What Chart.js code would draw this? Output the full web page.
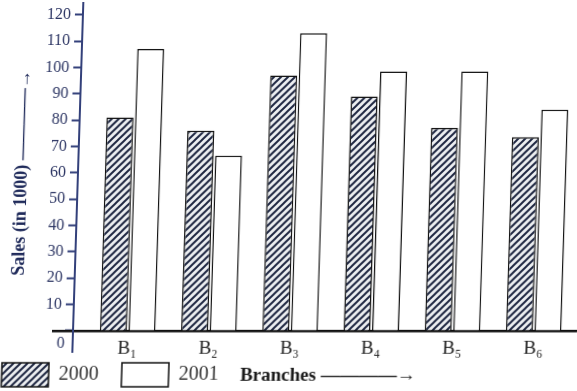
<!DOCTYPE html>
<html>
<head>
<meta charset="utf-8">
<script src="https://cdn.jsdelivr.net/npm/chart.js@4.4.1/dist/chart.umd.min.js"></script>
<style>
  html, body { margin: 0; padding: 0; background: #fff; overflow: hidden; }
  /* the scanned page leans a little: verticals drift right towards the top */
  #chart { display: block; transform: skewX(-1.8deg); transform-origin: 0 331px; }
</style>
</head>
<body>
<canvas id="chart" width="577" height="391"></canvas>
<script>
// sales (in thousands) of the six branches
const branches = ["B₁", "B₂", "B₃", "B₄", "B₅", "B₆"];
const years = ["2000", "2001"];
const sales2000 = [81, 76, 97, 89, 77, 73.5];
const sales2001 = [107, 66.5, 113, 98.5, 98.5, 84];
const yTicks = [0, 10, 20, 30, 40, 50, 60, 70, 80, 90, 100, 110, 120];

// the "0" of the y axis sits a little under the x axis in the book
const zeroLabelAt = -4.8;

const serif = "'Liberation Serif', 'Times New Roman', serif";
const axisBlue = "#33407a";
const labelBlue = "#2c3563";

// diagonal hatch for the 2000 bars
function hatch() {
  const c = document.createElement("canvas");
  c.width = 7;
  c.height = 7;
  const g = c.getContext("2d");
  g.fillStyle = "#eef0f2";
  g.fillRect(0, 0, 7, 7);
  g.strokeStyle = "#1d2540";
  g.lineWidth = 2;
  g.beginPath();
  g.moveTo(-1, 8); g.lineTo(8, -1);
  g.moveTo(-1, 1); g.lineTo(1, -1);
  g.moveTo(6, 8); g.lineTo(8, 6);
  g.stroke();
  return g.createPattern(c, "repeat");
}

function points(arr) {
  return arr.map((v, i) => ({ x: i + 1, y: v }));
}

new Chart(document.getElementById("chart"), {
  type: "bar",
  data: {
    datasets: [
      {
        label: years[0],
        data: points(sales2000),
        backgroundColor: hatch(),
        borderColor: "#111",
        borderWidth: 1.5,
        categoryPercentage: 0.703,
        barPercentage: 0.947,
      },
      {
        label: years[1],
        data: points(sales2001),
        backgroundColor: "#fff",
        borderColor: "#111",
        borderWidth: 1.5,
        categoryPercentage: 0.703,
        barPercentage: 0.947,
      },
    ],
  },
  options: {
    responsive: false,
    animation: false,
    devicePixelRatio: 1,
    layout: { padding: { left: 0, right: 0, top: 3, bottom: -6 } },
    plugins: {
      tooltip: { enabled: false },
      legend: {
        position: "bottom",
        align: "start",
        labels: {
          boxWidth: 47,
          boxHeight: 24,
          padding: 3,
          color: "#333",
          font: { family: serif, size: 20 },
          // trailing spaces give the gap between the two keys
          generateLabels: (chart) =>
            Chart.defaults.plugins.legend.labels
              .generateLabels(chart)
              .map((l) => ({ ...l, text: l.text + "    " })),
        },
      },
    },
    scales: {
      x: {
        type: "linear",
        min: 0.081,
        max: 6.534,
        offset: false,
        position: { y: 0 },
        afterBuildTicks: (s) => {
          s.ticks = branches.map((b, i) => ({ value: i + 1 }));
        },
        afterFit: (s) => {
          s.paddingLeft = 0;
          s.paddingRight = 0;
        },
        ticks: {
          callback: (v) => branches[v - 1],
          autoSkip: false,
          maxRotation: 0,
          padding: 7,
          color: "#222",
          font: { family: serif, size: 19 },
        },
        grid: { offset: false, drawOnChartArea: false, drawTicks: false },
        border: { color: "#111", width: 2.5 },
      },
      y: {
        min: -8,
        max: 124.5,
        position: { x: 0.328 },
        afterBuildTicks: (s) => {
          s.ticks = [zeroLabelAt, ...yTicks].map((v) => ({ value: v }));
        },
        afterFit: (s) => {
          s.paddingTop = 0;
          s.paddingBottom = 0;
        },
        ticks: {
          // labels of an axis placed by value are drawn right on the line,
          // the trailing spaces move them clear of the tick marks
          callback: (v) => (v < 0 ? "0  " : v === 0 ? "" : v + "   "),
          autoSkip: false,
          color: labelBlue,
          font: { family: serif, size: 16 },
        },
        grid: {
          drawOnChartArea: false,
          tickLength: 7,
          tickWidth: 2,
          tickColor: (c) => (c.tick && c.tick.value < 0 ? "rgba(0,0,0,0)" : axisBlue),
        },
        border: { color: axisBlue, width: 2 },
      },
      yTitle: {
        axis: "y",
        position: "left",
        ticks: { display: false },
        grid: { display: false, drawTicks: false },
        border: { display: false },
        title: {
          display: true,
          text: "  Sales (in 1000) ————→",
          color: "#1f2a5a",
          font: { family: serif, size: 18, weight: "bold" },
          padding: { top: 6.2, bottom: 25.2 },
        },
      },
      xTitle: {
        axis: "x",
        position: "bottom",
        ticks: { display: false },
        grid: { display: false, drawTicks: false },
        border: { display: false },
        title: {
          display: true,
          text: "      Branches ————→",
          color: "#1a1a1a",
          font: { family: serif, size: 19, weight: "bold" },
          padding: { top: 12.6, bottom: -27.4 },
        },
      },
    },
  },
});
</script>
</body>
</html>
